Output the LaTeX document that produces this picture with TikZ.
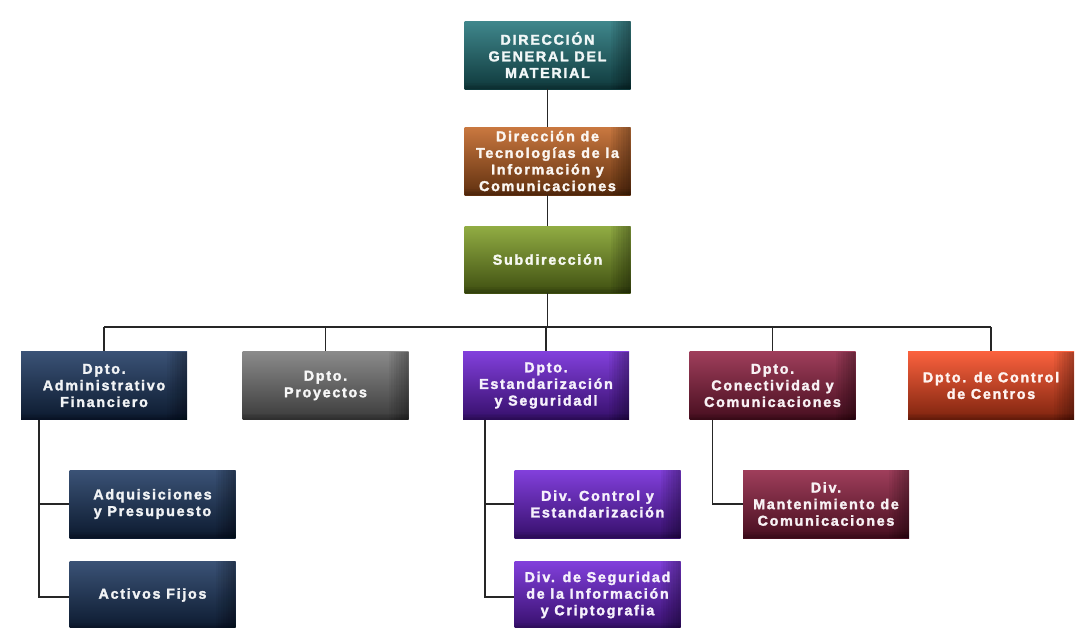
\documentclass[tikz,border=0pt]{standalone}
\usepackage{fontspec}
\newfontfamily\boxfont[LetterSpace=12, FakeBold=2]{Liberation Sans Bold}

% box colours
\definecolor{tealc}{RGB}{30,114,120}
\definecolor{orangec}{RGB}{192,96,30}
\definecolor{greenc}{RGB}{126,158,34}
\definecolor{navyc}{RGB}{24,52,94}
\definecolor{grayc}{RGB}{118,118,118}
\definecolor{purplec}{RGB}{108,30,214}
\definecolor{maroonc}{RGB}{142,28,62}
\definecolor{redc}{RGB}{250,70,28}

\tikzset{
  orgbox/.style={
    minimum width=166pt, minimum height=68pt, inner sep=0pt, align=center,
    font=\boxfont\fontsize{14.3}{16.6}\selectfont,
    top color=#1!85!white, middle color=#1, bottom color=#1!50!black,
    text=#1!6!white,
    % darkened right and bottom edges
    path picture={
      \foreach \i in {1,...,8}
        \fill[black, opacity=.045]
          ([xshift=-2.5*\i pt]path picture bounding box.north east)
          rectangle (path picture bounding box.south east);
      \foreach \i in {1,...,4}
        \fill[black, opacity=.05]
          ([yshift=1.5*\i pt]path picture bounding box.south west)
          rectangle (path picture bounding box.south east);
    }},
  link/.style={draw=black!85, line width=1.4pt}
}

\begin{document}
\begin{tikzpicture}[x=1pt, y=-1pt]
\useasboundingbox (0,0) rectangle (1076,627);
\clip (0,0) rectangle (1076,627);
\fill[white] (0,0) rectangle (1076,627);

% top of the hierarchy
\node[orgbox=tealc] (dgm) at (547.5,55) {DIRECCIÓN\\GENERAL DEL\\MATERIAL};
\node[orgbox=orangec] (dtic) at (547.5,161) {Dirección de\\Tecnologías de la\\Información y\\Comunicaciones};
\node[orgbox=greenc, minimum height=67pt] (sub) at (547.5,259.5) {Subdirección};

% departments
\node[orgbox=navyc] (admin) at (104,385.5) {Dpto.\\Administrativo\\Financiero};
\node[orgbox=grayc] (proy) at (325.5,385.5) {Dpto.\\Proyectos};
\node[orgbox=purplec] (estand) at (546,385.5) {Dpto.\\Estandarización\\y Seguridadl};
\node[orgbox=maroonc] (conect) at (772.5,385.5) {Dpto.\\Conectividad y\\Comunicaciones};
\node[orgbox=redc] (ccent) at (991,385.5) {Dpto. de Control\\de Centros};

% divisions
\node[orgbox=navyc] (adq) at (152.5,504) {Adquisiciones\\y Presupuesto};
\node[orgbox=navyc] (activos) at (152.5,595) {Activos Fijos};
\node[orgbox=purplec] (divctrl) at (597.5,504) {Div. Control y\\Estandarización};
\node[orgbox=purplec] (divseg) at (597.5,595) {Div. de Seguridad\\de la Información\\y Criptografia};
\node[orgbox=maroonc] (divmant) at (826,504) {Div.\\Mantenimiento de\\Comunicaciones};

% connectors
\draw[link] (dgm.south) -- (dtic.north);
\draw[link] (dtic.south) -- (sub.north);
\coordinate (bus) at (0,327);
\draw[link] (sub.south) -- (sub.south |- bus);
\draw[link] (admin.north |- bus) -- (ccent.north |- bus);
\foreach \n in {admin,proy,estand,conect,ccent}
  \draw[link] (\n.north |- bus) -- (\n.north);

\draw[link] ([xshift=18pt]admin.south west) |- (adq.west);
\draw[link] ([xshift=18pt]admin.south west) |- ([yshift=-2pt]activos.west);
\draw[link] ([xshift=22pt]estand.south west) |- (divctrl.west);
\draw[link] ([xshift=22pt]estand.south west) |- ([yshift=-2pt]divseg.west);
\draw[link] ([xshift=23pt]conect.south west) |- (divmant.west);
\end{tikzpicture}
\end{document}
